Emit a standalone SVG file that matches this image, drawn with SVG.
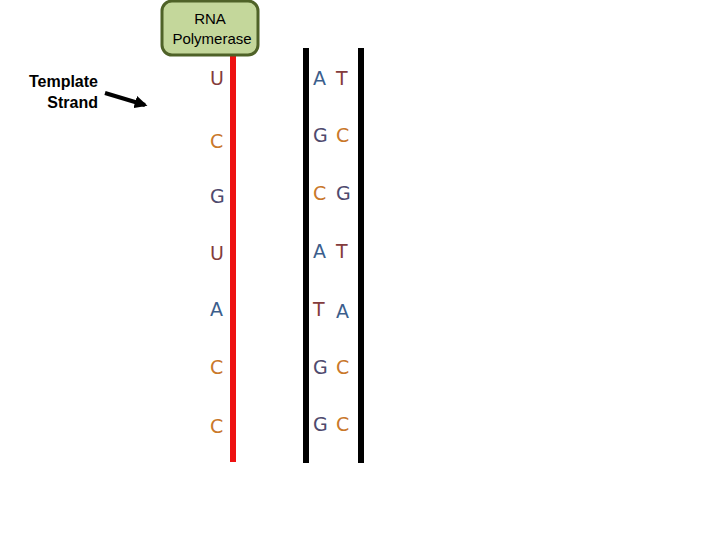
<svg xmlns="http://www.w3.org/2000/svg" width="720" height="540" viewBox="0 0 720 540">
<style>
.b{font-family:"DejaVu Sans","Open Sans",sans-serif;font-size:19px}
.U,.T{fill:#843c3c}.C{fill:#c9782a}.G{fill:#4f4a6e}.A{fill:#3b5e8c}
.lbl{font-family:"Liberation Sans",Arial,sans-serif;font-size:16px;font-weight:bold;fill:#000}
</style>
<defs><marker id="ah" viewBox="0 0 10 10" refX="8" refY="5" markerWidth="3.2" markerHeight="3.2" orient="auto"><path d="M0,0L10,5L0,10z" fill="#000"/></marker></defs>
<rect width="720" height="540" fill="#fff"/>
<g id="strands">
<line x1="233" y1="54" x2="233" y2="462" stroke="#ee1111" stroke-width="6"/>
<line x1="306" y1="48" x2="306" y2="463" stroke="#000" stroke-width="6"/>
<line x1="361" y1="48" x2="361" y2="463" stroke="#000" stroke-width="6"/>
</g>
<g id="polymerase">
<rect x="162" y="1" width="96" height="54" rx="10" fill="#c4d79b" stroke="#4f6228" stroke-width="3"/>
<text x="210" y="24" text-anchor="middle" font-family="Liberation Sans,Arial,sans-serif" font-size="15">RNA</text>
<text x="212" y="44" text-anchor="middle" font-family="Liberation Sans,Arial,sans-serif" font-size="15">Polymerase</text>
</g>
<g id="template-label">
<text class="lbl" x="98" y="87" text-anchor="end">Template</text>
<text class="lbl" x="98" y="108" text-anchor="end">Strand</text>
</g>
<g id="connectors"><line x1="105" y1="93" x2="145" y2="105" stroke="#000" stroke-width="4" marker-end="url(#ah)"/></g>
<g id="bases" class="b">
<text x="210" y="85" class="U">U</text><text x="313" y="85" class="A">A</text><text x="336" y="85" class="T">T</text>
<text x="210" y="148" class="C">C</text><text x="313" y="142" class="G">G</text><text x="336" y="142" class="C">C</text>
<text x="210" y="203" class="G">G</text><text x="313" y="200" class="C">C</text><text x="336" y="200" class="G">G</text>
<text x="210" y="260" class="U">U</text><text x="313" y="258" class="A">A</text><text x="336" y="258" class="T">T</text>
<text x="210" y="316" class="A">A</text><text x="313" y="316" class="T">T</text><text x="336" y="318" class="A">A</text>
<text x="210" y="374" class="C">C</text><text x="313" y="374" class="G">G</text><text x="336" y="374" class="C">C</text>
<text x="210" y="433" class="C">C</text><text x="313" y="431" class="G">G</text><text x="336" y="431" class="C">C</text>
</g>
</svg>
